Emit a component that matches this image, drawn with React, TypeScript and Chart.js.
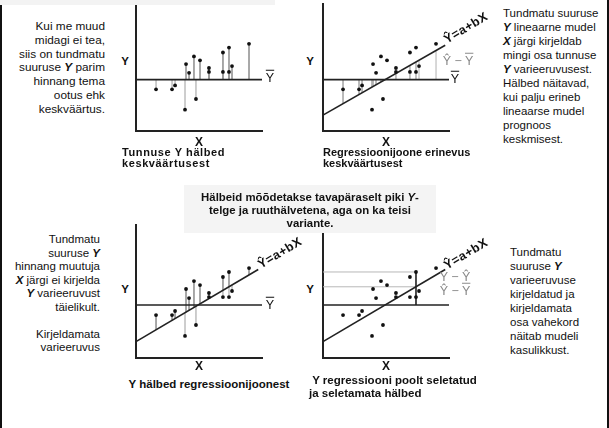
import React, { useEffect, useRef } from "react";
import { Chart, registerables } from "chart.js";

Chart.register(...registerables);

// ---- data (axis units: 0–100 along each axis) ----
const obsX = [15.9, 28.6, 31.0, 38.9, 39.7, 42.1, 46.0, 47.6, 50.8, 57.9, 57.9, 69.0, 69.0, 73.8, 73.8, 76.2, 89.7];
const obsY = [34.1, 34.1, 37.3, 17.5, 54.8, 47.6, 61.1, 26.2, 57.9, 51.6, 48.4, 64.3, 48.4, 68.3, 48.4, 53.2, 71.4];
const meanY = 42.1;
const interceptA = 13;
const slopeB = 0.59;
const regStartX = 0;
const regEndX = 97;
const axisMaxX = 100;
const axisMaxYTop = 104;
const axisMaxYBottom = 105.6;
const highlightIndex = 13;

const FONT = '"Liberation Sans", Arial, Helvetica, sans-serif';
const fit = (x: number) => interceptA + slopeB * x;

type Kind = "mean" | "regMean" | "resid" | "split";

const seg = (x1: number, y1: number, x2: number, y2: number, color: string, width: number) => ({
  type: "line",
  data: [
    { x: x1, y: y1 },
    { x: x2, y: y2 },
  ],
  borderColor: color,
  borderWidth: width,
  pointRadius: 0,
  fill: false,
  tension: 0,
});

function buildDatasets(kind: Kind) {
  const ds: any[] = [];
  ds.push({
    type: "scatter",
    data: obsX.map((x, i) => ({ x, y: obsY[i] })),
    pointRadius: 1.9,
    pointBackgroundColor: "#111",
    pointBorderWidth: 0,
    showLine: false,
  });
  ds.push(seg(0, meanY, axisMaxX, meanY, "#222", 1.6));
  if (kind !== "mean") ds.push(seg(regStartX, fit(regStartX), regEndX, fit(regEndX), "#222", 1.6));
  const grey = "#9c9c9c";
  if (kind === "mean") obsX.forEach((x, i) => ds.push(seg(x, obsY[i], x, meanY, grey, 1)));
  if (kind === "regMean") obsX.forEach((x) => ds.push(seg(x, meanY, x, fit(x), "#b0b0b0", 1)));
  if (kind === "resid") obsX.forEach((x, i) => ds.push(seg(x, obsY[i], x, fit(x), grey, 1)));
  if (kind === "split") {
    const hx = obsX[highlightIndex];
    const hy = obsY[highlightIndex];
    ds.splice(1, 0, seg(hx, hy, hx, meanY, "#222", 1.6));
    ds.push(seg(0, hy, hx, hy, "#b8b8b8", 1));
    ds.push(seg(0, fit(hx), hx, fit(hx), "#b8b8b8", 1));
  }
  return ds;
}

interface PanelSpec {
  kind: Kind;
  L: number;
  T: number;
  R: number;
  B: number;
  yMax: number;
  xTitlePad: number;
}

const panels: PanelSpec[] = [
  { kind: "mean", L: 136, T: 0, R: 262, B: 131, yMax: axisMaxYTop, xTitlePad: 6 },
  { kind: "regMean", L: 323, T: 0, R: 449, B: 131, yMax: axisMaxYTop, xTitlePad: 6 },
  { kind: "resid", L: 136, T: 225, R: 262, B: 358, yMax: axisMaxYBottom, xTitlePad: 3 },
  { kind: "split", L: 323, T: 225, R: 449, B: 358, yMax: axisMaxYBottom, xTitlePad: 3 },
];

function PanelChart({ spec }: { spec: PanelSpec }) {
  const ref = useRef<HTMLCanvasElement>(null);
  const padSide = 6;
  const canvasTop = Math.max(0, spec.T - 4);
  const padTop = spec.T - canvasTop;
  const titleSize = 12;
  const xAxisH = titleSize + spec.xTitlePad;
  const padBottom = 2;
  const left = spec.L - padSide;
  const w = spec.R - spec.L + padSide * 2;
  const h = spec.B - canvasTop + xAxisH + padBottom;

  useEffect(() => {
    const chart = new Chart(ref.current as HTMLCanvasElement, {
      type: "scatter",
      data: { datasets: buildDatasets(spec.kind) as any },
      options: {
        animation: false,
        responsive: false,
        maintainAspectRatio: false,
        events: [],
        layout: { padding: { left: padSide, right: padSide, top: padTop, bottom: padBottom } },
        plugins: { legend: { display: false }, tooltip: { enabled: false }, title: { display: false } },
        scales: {
          x: {
            type: "linear",
            min: 0,
            max: axisMaxX,
            grid: { display: false, drawTicks: false },
            ticks: { display: false },
            border: { display: true, color: "#222", width: 2 },
            title: {
              display: true,
              text: "X",
              color: "#111",
              font: { family: FONT, size: titleSize, weight: "bold", lineHeight: 1 },
              padding: { top: spec.xTitlePad, bottom: 0 },
            },
          },
          y: {
            type: "linear",
            min: 0,
            max: spec.yMax,
            grid: { display: false, drawTicks: false },
            ticks: { display: false },
            border: { display: true, color: "#222", width: 2 },
          },
        },
      } as any,
    });
    return () => chart.destroy();
  }, []);

  return (
    <canvas
      ref={ref}
      width={w}
      height={h}
      style={{ position: "absolute", left, top: canvasTop, width: w, height: h }}
    />
  );
}

const BY = () => (
  <b>
    <i>Y</i>
  </b>
);
const BX = () => (
  <b>
    <i>X</i>
  </b>
);
const YBar = () => <span style={{ textDecoration: "overline", textDecorationThickness: "1.3px" }}>Y</span>;

function Lines({
  lines,
  left,
  width,
  top,
  lh,
  align,
  size,
  weight,
  color,
  spacing,
}: {
  lines: React.ReactNode[];
  left: number;
  width: number;
  top: number;
  lh: number;
  align: "left" | "right" | "center";
  size: number;
  weight?: string;
  color?: string;
  spacing?: number;
}) {
  return (
    <div
      style={{
        position: "absolute",
        left,
        top: top - lh / 2,
        width,
        textAlign: align,
        fontSize: size,
        lineHeight: `${lh}px`,
        fontWeight: weight || "normal",
        color: color || "#111",
        letterSpacing: spacing ? `${spacing}px` : undefined,
        whiteSpace: "nowrap",
      }}
    >
      {lines.map((l, i) => (
        <div key={i} style={{ height: lh }}>
          {l}
        </div>
      ))}
    </div>
  );
}

function Label({ x, y, text, size = 12, color = "#111", weight = "bold" }: any) {
  return (
    <div
      style={{
        position: "absolute",
        left: x,
        top: y,
        transform: "translate(-50%, -50%)",
        fontSize: size,
        fontWeight: weight,
        color,
        lineHeight: 1,
        whiteSpace: "nowrap",
      }}
    >
      {text}
    </div>
  );
}

function Equation({ x, y }: { x: number; y: number }) {
  return (
    <div
      style={{
        position: "absolute",
        left: x,
        top: y,
        transform: "translate(-50%, -50%) rotate(-31deg)",
        fontSize: 12.5,
        fontWeight: "bold",
        lineHeight: 1,
        letterSpacing: "0.5px",
        whiteSpace: "nowrap",
        color: "#111",
      }}
    >
      Ŷ=a+bX
    </div>
  );
}

export default function App() {
  return (
    <div
      style={{
        position: "fixed",
        left: 0,
        top: 0,
        width: 609,
        height: 428,
        background: "#fff",
        overflow: "hidden",
        fontFamily: FONT,
      }}
    >
      {panels.map((p, i) => (
        <PanelChart key={i} spec={p} />
      ))}

      {/* frame */}
      <div style={{ position: "absolute", left: 0, top: 0, width: 2, height: 428, background: "#111" }} />
      <div style={{ position: "absolute", left: 607, top: 0, width: 2, height: 428, background: "#111" }} />
      <div style={{ position: "absolute", left: 0, top: 0, width: 275, height: 5, background: "#f3f3f3" }} />

      {/* axis Y labels */}
      <Label x={125} y={62} text="Y" size={11.5} />
      <Label x={310} y={62} text="Y" size={11.5} />
      <Label x={125} y={290} text="Y" size={11.5} />
      <Label x={310} y={290} text="Y" size={11.5} />

      {/* mean labels */}
      <Label x={270} y={78} text={<YBar />} size={12.5} weight="normal" />
      <Label x={455} y={79} text={<YBar />} size={12.5} weight="normal" />
      <Label x={270} y={305} text={<YBar />} size={12.5} weight="normal" />

      {/* deviation labels */}
      <Label x={458} y={61} text={<>Ŷ − <YBar /></>} size={12.5} weight="normal" color="#8a8a8a" />
      <Label x={455} y={277} text={<>Y − Ŷ</>} size={12.5} weight="normal" color="#8a8a8a" />
      <Label x={455} y={291} text={<>Ŷ − <YBar /></>} size={12.5} weight="normal" color="#8a8a8a" />

      {/* regression equations */}
      <Equation x={466} y={28} />
      <Equation x={280} y={253} />
      <Equation x={466} y={254} />

      {/* panel titles */}
      <Lines
        lines={["Tunnuse Y hälbed", "keskväärtusest"]}
        left={122}
        width={160}
        top={152}
        lh={11}
        align="left"
        size={11}
        weight="bold"
        spacing={0.6}
      />
      <Lines
        lines={["Regressioonijoone erinevus", "keskväärtusest"]}
        left={323}
        width={180}
        top={152}
        lh={11}
        align="left"
        size={11}
        weight="bold"
      />
      <Lines
        lines={["Y hälbed regressioonijoonest"]}
        left={109}
        width={200}
        top={384}
        lh={12}
        align="center"
        size={11.5}
        weight="bold"
      />
      <Lines
        lines={["\u00a0Y regressiooni poolt seletatud", "ja seletamata hälbed"]}
        left={309}
        width={200}
        top={380}
        lh={13}
        align="left"
        size={11.5}
        weight="bold"
      />

      {/* side texts */}
      <Lines
        lines={[
          "Kui me muud",
          "midagi ei tea,",
          "siis on tundmatu",
          <>
            suuruse <BY /> parim
          </>,
          "hinnang tema",
          "ootus ehk",
          "keskväärtus.",
        ]}
        left={0}
        width={105}
        top={27}
        lh={13.8}
        align="right"
        size={11.8}
      />
      <Lines
        lines={[
          "Tundmatu suuruse",
          <>
            <BY /> lineaarne mudel
          </>,
          <>
            <BX /> järgi kirjeldab
          </>,
          "mingi osa tunnuse",
          <>
            <BY /> varieeruvusest.
          </>,
          "Hälbed näitavad,",
          "kui palju erineb",
          "lineaarse mudel",
          "prognoos",
          "keskmisest.",
        ]}
        left={503}
        width={104}
        top={13}
        lh={14}
        align="left"
        size={11.5}
      />
      <Lines
        lines={[
          "Tundmatu",
          <>
            suuruse <BY />
          </>,
          "hinnang muutuja",
          <>
            <BX /> järgi ei kirjelda
          </>,
          <>
            <BY /> varieeruvust
          </>,
          "täielikult.",
          "",
          "Kirjeldamata",
          "varieeruvus",
        ]}
        left={0}
        width={100}
        top={240}
        lh={13.5}
        align="right"
        size={11.5}
      />
      <Lines
        lines={[
          "Tundmatu",
          <>
            suuruse <BY />
          </>,
          "varieeruvuse",
          "kirjeldatud ja",
          "kirjeldamata",
          "osa vahekord",
          "näitab mudeli",
          "kasulikkust.",
        ]}
        left={510}
        width={95}
        top={252}
        lh={14}
        align="left"
        size={11.5}
      />

      {/* middle note box */}
      <div
        style={{
          position: "absolute",
          left: 184,
          top: 185,
          width: 252,
          height: 48,
          background: "#f4f4f4",
        }}
      />
      <Lines
        lines={[
          <>
            Hälbeid mõõdetakse tavapäraselt piki <i>Y</i>-
          </>,
          "telge ja ruuthälvetena, aga on ka teisi",
          "variante.",
        ]}
        left={184}
        width={252}
        top={197}
        lh={13}
        align="center"
        size={11.4}
        weight="bold"
      />
    </div>
  );
}
